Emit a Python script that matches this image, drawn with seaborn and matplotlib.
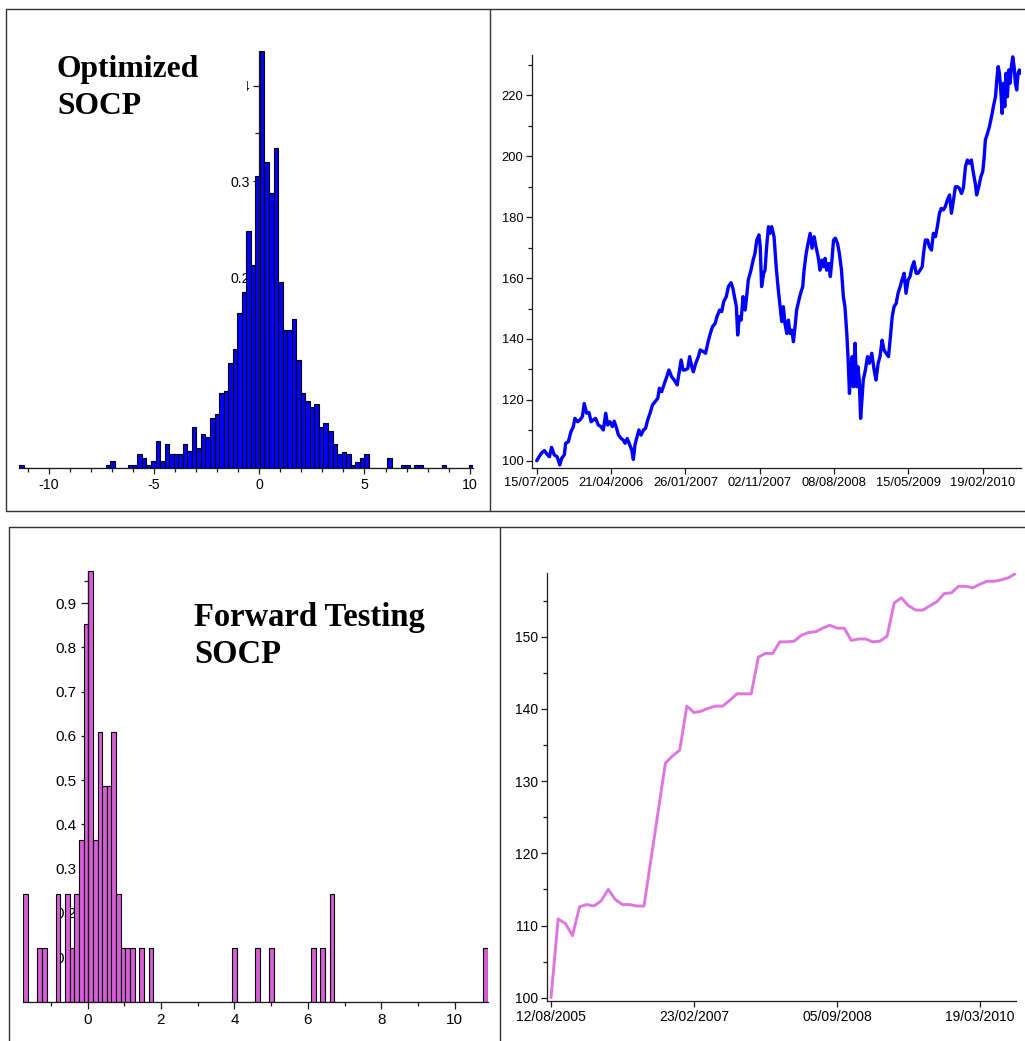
import numpy as np
import pandas as pd
import seaborn as sns
import matplotlib.pyplot as plt
import matplotlib.dates as mdates
from matplotlib.patches import Rectangle
from matplotlib.lines import Line2D

# ---- Optimized SOCP: return histogram (100 bins, density) ----
opt_range = (-11.40, 10.17)
opt_bins = [0, 19, 20, 24, 25, 26, 27, 28, 29, 30, 31, 32, 33, 34, 35, 36, 37,
            38, 39, 40, 41, 42, 43, 44, 45, 46, 47, 48, 49, 50, 51, 52, 53, 54,
            55, 56, 57, 58, 59, 60, 61, 62, 63, 64, 65, 66, 67, 68, 69, 70, 71,
            72, 73, 74, 75, 76, 81, 84, 85, 87, 88, 93, 99]
opt_density = [0.0035, 0.0035, 0.0073, 0.0035, 0.0035, 0.0147, 0.0110, 0.0035,
               0.0073, 0.0290, 0.0073, 0.0256, 0.0147, 0.0147, 0.0147, 0.0256,
               0.0183, 0.0430, 0.0210, 0.0356, 0.0328, 0.0530, 0.0565, 0.0791,
               0.0812, 0.1104, 0.1245, 0.1627, 0.1846, 0.2484, 0.2125, 0.3055,
               0.4365, 0.3199, 0.2875, 0.3345, 0.1945, 0.1446, 0.1446, 0.1564,
               0.1133, 0.0785, 0.0707, 0.0645, 0.0673, 0.0429, 0.0471, 0.0391,
               0.0252, 0.0147, 0.0175, 0.0150, 0.0036, 0.0070, 0.0109, 0.0150,
               0.0109, 0.0036, 0.0036, 0.0036, 0.0036, 0.0036, 0.0036]

# ---- Optimized SOCP: equity curve (days after 15/07/2005, value) ----
opt_days = [0, 9, 19, 29, 38, 48, 56, 66, 77, 87, 94, 104, 109, 119, 129, 138,
            144, 154, 163, 172, 179, 188, 197, 205, 213, 222, 232, 242, 251,
            260, 267, 276, 285, 292, 301, 308, 318, 326, 333, 341, 351, 358,
            364, 370, 378, 385, 393, 402, 410, 418, 427, 436, 446, 456, 462,
            471, 481, 490, 498, 508, 518, 529, 536, 544, 551, 559, 569, 576,
            584, 590, 599, 609, 616, 628, 636, 647, 654, 662, 672, 679, 689,
            697, 704, 714, 722, 732, 739, 747, 752, 757, 763, 770, 777, 785,
            792, 797, 807, 815, 822, 829, 837, 842, 847, 855, 860, 866, 873,
            879, 885, 894, 902, 910, 917, 923, 929, 935, 942, 948, 954, 961,
            967, 973, 979, 986, 994, 1002, 1007, 1015, 1022, 1030, 1037, 1045,
            1052, 1060, 1067, 1074, 1080, 1086, 1092, 1100, 1106, 1112, 1118,
            1125, 1133, 1140, 1148, 1155, 1161, 1168, 1173, 1178, 1183, 1188,
            1193, 1199, 1205, 1210, 1215, 1220, 1225, 1230, 1238, 1246, 1253,
            1262, 1271, 1278, 1286, 1293, 1301, 1308, 1316, 1325, 1331, 1339,
            1346, 1354, 1361, 1369, 1376, 1384, 1391, 1399, 1406, 1414, 1421,
            1429, 1436, 1444, 1452, 1457, 1464, 1472, 1479, 1487, 1494, 1502,
            1509, 1517, 1524, 1532, 1539, 1547, 1555, 1562, 1570, 1577, 1585,
            1592, 1600, 1607, 1615, 1622, 1630, 1637, 1645, 1652, 1657, 1665,
            1673, 1680, 1685, 1690, 1698, 1705, 1713, 1720, 1728, 1733, 1738,
            1743, 1748, 1753, 1758, 1763, 1768, 1773, 1778, 1783, 1788, 1793,
            1798, 1803, 1808, 1813, 1818, 1823]
opt_value = [100.0, 101.3, 102.6, 103.3, 102.2, 101.3, 104.4, 101.9, 101.3,
             98.6, 100.8, 101.9, 105.7, 106.2, 109.5, 111.2, 113.9, 112.8,
             113.4, 114.5, 118.8, 115.6, 115.8, 112.8, 113.4, 113.9, 111.7,
             111.2, 110.1, 115.6, 111.7, 112.8, 111.2, 113.0, 110.6, 108.4,
             107.3, 106.8, 105.7, 107.3, 105.1, 103.5, 100.4, 105.1, 107.9,
             110.1, 108.4, 110.1, 110.6, 113.4, 115.6, 118.3, 119.4, 120.5,
             123.8, 122.7, 125.4, 127.6, 129.8, 127.6, 126.5, 124.9, 128.7,
             133.1, 129.8, 129.8, 130.3, 134.2, 130.9, 129.2, 132.0, 134.2,
             136.4, 135.8, 135.3, 139.6, 141.8, 144.0, 145.1, 147.3, 149.5,
             149.0, 152.2, 153.9, 157.2, 158.5, 156.6, 152.8, 150.6, 141.3,
             147.3, 146.2, 153.9, 149.5, 155.0, 159.4, 162.6, 165.9, 168.1,
             172.5, 174.2, 170.3, 157.2, 161.6, 162.6, 170.3, 176.9, 174.7,
             176.9, 173.6, 163.7, 156.1, 150.6, 145.7, 150.6, 145.1, 141.8,
             146.2, 141.8, 142.9, 139.1, 144.0, 149.5, 152.2, 155.0, 157.2,
             162.6, 168.1, 171.4, 174.7, 169.8, 173.6, 170.3, 167.0, 162.6,
             165.9, 163.7, 166.5, 162.6, 164.8, 160.5, 165.9, 172.5, 173.1,
             171.4, 168.1, 162.6, 153.9, 150.6, 141.8, 133.1, 122.1, 129.8,
             134.2, 124.3, 138.6, 124.3, 130.9, 126.5, 113.9, 119.9, 126.5,
             129.8, 134.2, 132.0, 135.3, 129.8, 126.5, 132.0, 134.2, 139.6,
             136.4, 135.3, 134.2, 139.6, 147.3, 150.6, 151.7, 155.0, 157.2,
             159.4, 161.6, 155.0, 159.4, 160.5, 163.7, 165.4, 161.6, 161.6,
             162.6, 163.7, 168.1, 172.5, 172.5, 170.3, 169.2, 174.7, 173.6,
             176.9, 181.3, 182.9, 182.4, 183.5, 185.7, 187.3, 181.3, 185.7,
             190.0, 190.0, 189.5, 187.8, 189.5, 196.6, 198.8, 197.7, 198.8,
             194.4, 191.1, 187.3, 190.0, 193.3, 195.0, 199.3, 205.4, 207.6,
             209.7, 213.0, 216.3, 219.6, 225.1, 229.5, 227.3, 221.8, 214.1,
             224.0, 216.3, 227.3, 219.6, 228.4, 224.0, 229.5, 232.7, 229.5,
             224.0, 221.8, 227.3, 228.4, 227.3]
opt_ticks = ["15/07/2005", "21/04/2006", "26/01/2007", "02/11/2007",
             "08/08/2008", "15/05/2009", "19/02/2010"]

# ---- Forward testing SOCP: return histogram (100 bins, density) ----
fwd_range = (-1.749, 10.89)
fwd_bins = [0, 3, 4, 7, 9, 10, 11, 12, 13, 14, 15, 16, 17, 18, 19, 20, 21, 22,
            23, 25, 27, 45, 50, 53, 62, 64, 66, 99]
fwd_density = [0.243, 0.122, 0.122, 0.243, 0.243, 0.122, 0.243, 0.365, 0.852,
               0.974, 0.365, 0.609, 0.487, 0.487, 0.609, 0.243, 0.122, 0.122,
               0.122, 0.122, 0.122, 0.122, 0.122, 0.122, 0.122, 0.122, 0.243,
               0.122]

# ---- Forward testing SOCP: equity curve, one point every 28 days ----
fwd_start = "12/08/2005"
fwd_value = [100.0, 110.9, 110.3, 108.6, 112.6, 112.9, 112.7, 113.4, 115.0,
             113.6, 112.9, 112.9, 112.7, 112.7, 119.3, 125.9, 132.5, 133.5,
             134.3, 140.4, 139.5, 139.7, 140.1, 140.4, 140.4, 141.2, 142.1,
             142.1, 142.1, 147.2, 147.7, 147.7, 149.3, 149.3, 149.4, 150.2,
             150.6, 150.7, 151.2, 151.6, 151.2, 151.2, 149.5, 149.7, 149.7,
             149.3, 149.4, 150.1, 154.7, 155.4, 154.3, 153.7, 153.7, 154.3,
             154.9, 156.0, 156.1, 157.0, 157.0, 156.8, 157.3, 157.7, 157.7,
             157.9, 158.2, 158.8]
fwd_ticks = ["12/08/2005", "23/02/2007", "05/09/2008", "19/03/2010"]

W, H = 1025, 1041
BLUE = "#0000ff"
VIOLET = "#d65ed6"
LINE_VIOLET = "#dd77dd"

sns.set_style("ticks")
plt.rcParams["font.family"] = ["Liberation Sans", "DejaVu Sans"]
plt.rcParams["axes.unicode_minus"] = False


def box(x0, y0, x1, y1):
    """axes rect from pixel corners (top-left origin)"""
    return [x0 / W, 1 - y1 / H, (x1 - x0) / W, (y1 - y0) / H]


def style_axes(ax, size=10, major=4, pad=2.5):
    for s in ("top", "right"):
        ax.spines[s].set_visible(False)
    for s in ("left", "bottom"):
        ax.spines[s].set_linewidth(0.9)
        ax.spines[s].set_color("#1a1a1a")
    ax.tick_params(which="major", length=major, width=0.9, color="#1a1a1a",
                   labelsize=size, pad=pad, labelcolor="black")
    ax.tick_params(which="minor", length=2.8, width=0.9, color="#1a1a1a")
    ax.set_xlabel("")
    ax.set_ylabel("")


def histogram(ax, rng, bins, dens, colour):
    edges = np.linspace(rng[0], rng[1], 101)
    idx = np.array(bins)
    df = pd.DataFrame({"ret": (edges[idx] + edges[idx + 1]) / 2,
                       "dens": dens})
    sns.histplot(data=df, x="ret", weights="dens", bins=list(edges),
                 stat="count", color=colour, edgecolor="black",
                 linewidth=0.8, alpha=1, ax=ax)
    ax.set_axisbelow(True)
    ax.spines["left"].set_position(("data", 0))
    ax.set_xlim(*rng)
    ax.set_ylim(0, max(dens))


fig = plt.figure(figsize=(W / 100, H / 100), dpi=100)

# top-left
ax1 = fig.add_axes(box(19.3, 50.7, 473.3, 468.4))
histogram(ax1, opt_range, opt_bins, opt_density, BLUE)
ax1.set_xticks([-10, -5, 0, 5, 10])
ax1.set_xticks(np.arange(-11, 11), minor=True)
ax1.set_yticks([0.1, 0.2, 0.3, 0.4])
ax1.set_yticks([0.05, 0.15, 0.25, 0.35], minor=True)
style_axes(ax1, 10.2, major=4.2, pad=2.5)

# bottom-left
ax3 = fig.add_axes(box(23.3, 570.5, 487.5, 1001.5))
histogram(ax3, fwd_range, fwd_bins, fwd_density, VIOLET)
ax3.set_xticks([0, 2, 4, 6, 8, 10])
ax3.set_xticks([-1, 1, 3, 5, 7, 9], minor=True)
ax3.set_yticks(np.round(np.arange(0.1, 0.95, 0.1), 1))
ax3.set_yticks(np.round(np.arange(0.05, 0.96, 0.1), 2), minor=True)
style_axes(ax3, 11, major=5, pad=3)

# top-right
start = pd.to_datetime(opt_ticks[0], dayfirst=True)
opt_dates = start + pd.to_timedelta(opt_days, unit="D")
ax2 = fig.add_axes(box(532.3, 55, 1020.7, 468.3))
sns.lineplot(x=opt_dates, y=opt_value, ax=ax2, color=BLUE, linewidth=2.4,
             estimator=None)
ax2.set_xlim(start - pd.Timedelta(days=16.6), start + pd.Timedelta(days=1823))
ax2.set_ylim(97.5, 233.3)
ax2.set_xticks(pd.to_datetime(opt_ticks, dayfirst=True))
ax2.xaxis.set_major_formatter(mdates.DateFormatter("%d/%m/%Y"))
ax2.set_yticks(np.arange(100, 221, 20))
ax2.set_yticks(np.arange(110, 231, 20), minor=True)
style_axes(ax2, 9.3)

# bottom-right
fstart = pd.to_datetime(fwd_start, dayfirst=True)
fwd_dates = fstart + pd.to_timedelta(np.arange(len(fwd_value)) * 28, unit="D")
ax4 = fig.add_axes(box(547.3, 573.3, 1015.8, 1001))
sns.lineplot(x=fwd_dates, y=fwd_value, ax=ax4, color=LINE_VIOLET,
             linewidth=2.1, estimator=None)
ax4.set_xlim(fstart - pd.Timedelta(days=14.5), fwd_dates[-1])
ax4.set_ylim(99.54, 158.8)
ax4.set_xticks(pd.to_datetime(fwd_ticks, dayfirst=True))
ax4.xaxis.set_major_formatter(mdates.DateFormatter("%d/%m/%Y"))
ax4.set_yticks(np.arange(100, 151, 10))
ax4.set_yticks(np.arange(105, 156, 10), minor=True)
style_axes(ax4, 10)

# panel frames
frame = dict(color="#333333", linewidth=1.0, transform=fig.transFigure)
for (xa, ya, xb, yb) in [(6, 9, 1025, 9), (6, 511, 1025, 511), (6, 9, 6, 511),
                         (490, 9, 490, 511), (9, 527, 1025, 527),
                         (9, 527, 9, 1041), (500, 527, 500, 1041)]:
    fig.add_artist(Line2D([xa / W, xb / W], [1 - ya / H, 1 - yb / H], **frame))

# caption boxes
for (xa, ya, xb, yb) in [(35, 35, 247, 125), (175, 587, 470, 675)]:
    fig.add_artist(Rectangle((xa / W, 1 - yb / H), (xb - xa) / W, (yb - ya) / H,
                             transform=fig.transFigure, facecolor="white",
                             edgecolor="none", zorder=5))
caption = dict(family="Liberation Serif", weight="bold", va="baseline",
               ha="left", color="black", zorder=6)
fig.text(57 / W, 1 - 77.5 / H, "Optimized", size=22.8, **caption)
fig.text(57 / W, 1 - 113.5 / H, "SOCP", size=22.8, **caption)
fig.text(194 / W, 1 - 626 / H, "Forward Testing", size=23.5, **caption)
fig.text(194 / W, 1 - 663 / H, "SOCP", size=23.5, **caption)

fig.savefig("out.png", dpi=100, facecolor="white")
